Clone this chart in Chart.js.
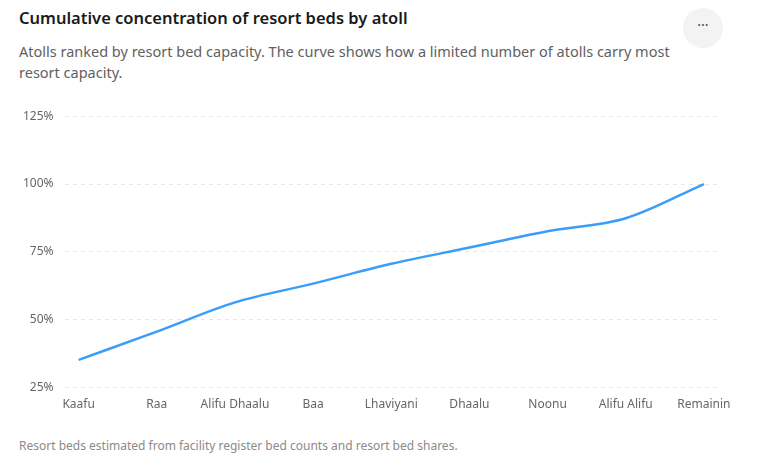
<!DOCTYPE html>
<html>
<head>
<meta charset="utf-8">
<script src="https://cdn.jsdelivr.net/npm/chart.js@4.4.1/dist/chart.umd.min.js"></script>
<style>
  html, body { margin: 0; padding: 0; background: #fff; }
  body { width: 763px; height: 469px; position: relative; overflow: hidden;
         font-family: "Segoe UI", "Noto Sans", "Open Sans", sans-serif; }
  #title { position: absolute; left: 19px; top: 6px; font-size: 16.5px; font-weight: 600; color: #1a1a1a; }
  #subtitle { position: absolute; left: 19px; top: 41px; width: 680px; font-size: 14.5px; line-height: 21px; color: #616161; }
  #more { position: absolute; left: 683px; top: 8px; width: 40px; height: 40px; border-radius: 50%;
          background: #f3f3f3; color: #444; font-size: 14px; text-align: center; line-height: 34px; }
  #wrap { position: absolute; left: 0; top: 98px; width: 763px; height: 316px; }
  #note { position: absolute; left: 19px; top: 437px; font-size: 12px; color: #8a8a8a; }
</style>
</head>
<body>
<div id="title">Cumulative concentration of resort beds by atoll</div>
<div id="subtitle">Atolls ranked by resort bed capacity. The curve shows how a limited number of atolls carry most resort capacity.</div>
<div id="more">···</div>
<div id="wrap"><canvas id="js--chart--curve"></canvas></div>
<div id="note">Resort beds estimated from facility register bed counts and resort bed shares.</div>
<script>
const atolls = ['Kaafu', 'Raa', 'Alifu Dhaalu', 'Baa', 'Lhaviyani', 'Dhaalu', 'Noonu', 'Alifu Alifu', 'Remaining'];
const cumulativeShare = [35.2, 45.6, 56.4, 63.3, 70.6, 76.6, 82.6, 87.4, 100];
const yTicks = [25, 50, 75, 100, 125];

const ctx = document.getElementById('js--chart--curve');

if (ctx) {
  new Chart(ctx, {
    type: 'line',
    data: {
      datasets: [{
        label: 'Cumulative share',
        data: cumulativeShare.map((v, i) => ({ x: i, y: v })),
        borderColor: '#3a9dfa',
        borderWidth: 2.5,
        pointRadius: 0,
        tension: 0.4,
        cubicInterpolationMode: 'monotone',
        fill: false
      }]
    },
    options: {
      responsive: true,
      maintainAspectRatio: false,
      animation: false,
      layout: { padding: { left: 12, right: 45, top: 6, bottom: 0 } },
      scales: {
        x: {
          type: 'linear',
          min: -0.18,
          max: atolls.length - 1 + 0.18,
          grid: { display: false },
          border: { display: false },
          ticks: {
            stepSize: 1,
            autoSkip: false,
            includeBounds: false,
            maxRotation: 0,
            padding: 2,
            color: '#666',
            font: { family: '"Segoe UI", "Noto Sans", sans-serif', size: 12 },
            callback: (value) => {
              const label = atolls[value];
              if (!Number.isInteger(value) || !label) return '';
              // laatste label wordt afgekapt zoals in het origineel
              return label === 'Remaining' ? label.slice(0, 8) : label;
            }
          }
        },
        y: {
          min: yTicks[0],
          max: yTicks[yTicks.length - 1],
          afterBuildTicks: (axis) => { axis.ticks = yTicks.map(v => ({ value: v })); },
          grid: { color: '#e6e6e6', drawTicks: false, lineWidth: 1 },
          border: { display: false, dash: [4, 4] },
          ticks: {
            padding: 11,
            color: '#666',
            font: { family: '"Segoe UI", "Noto Sans", sans-serif', size: 12 },
            callback: (value) => value + '%'
          }
        }
      },
      plugins: {
        legend: { display: false },
        tooltip: { enabled: false }
      }
    }
  });
}
</script>
</body>
</html>
